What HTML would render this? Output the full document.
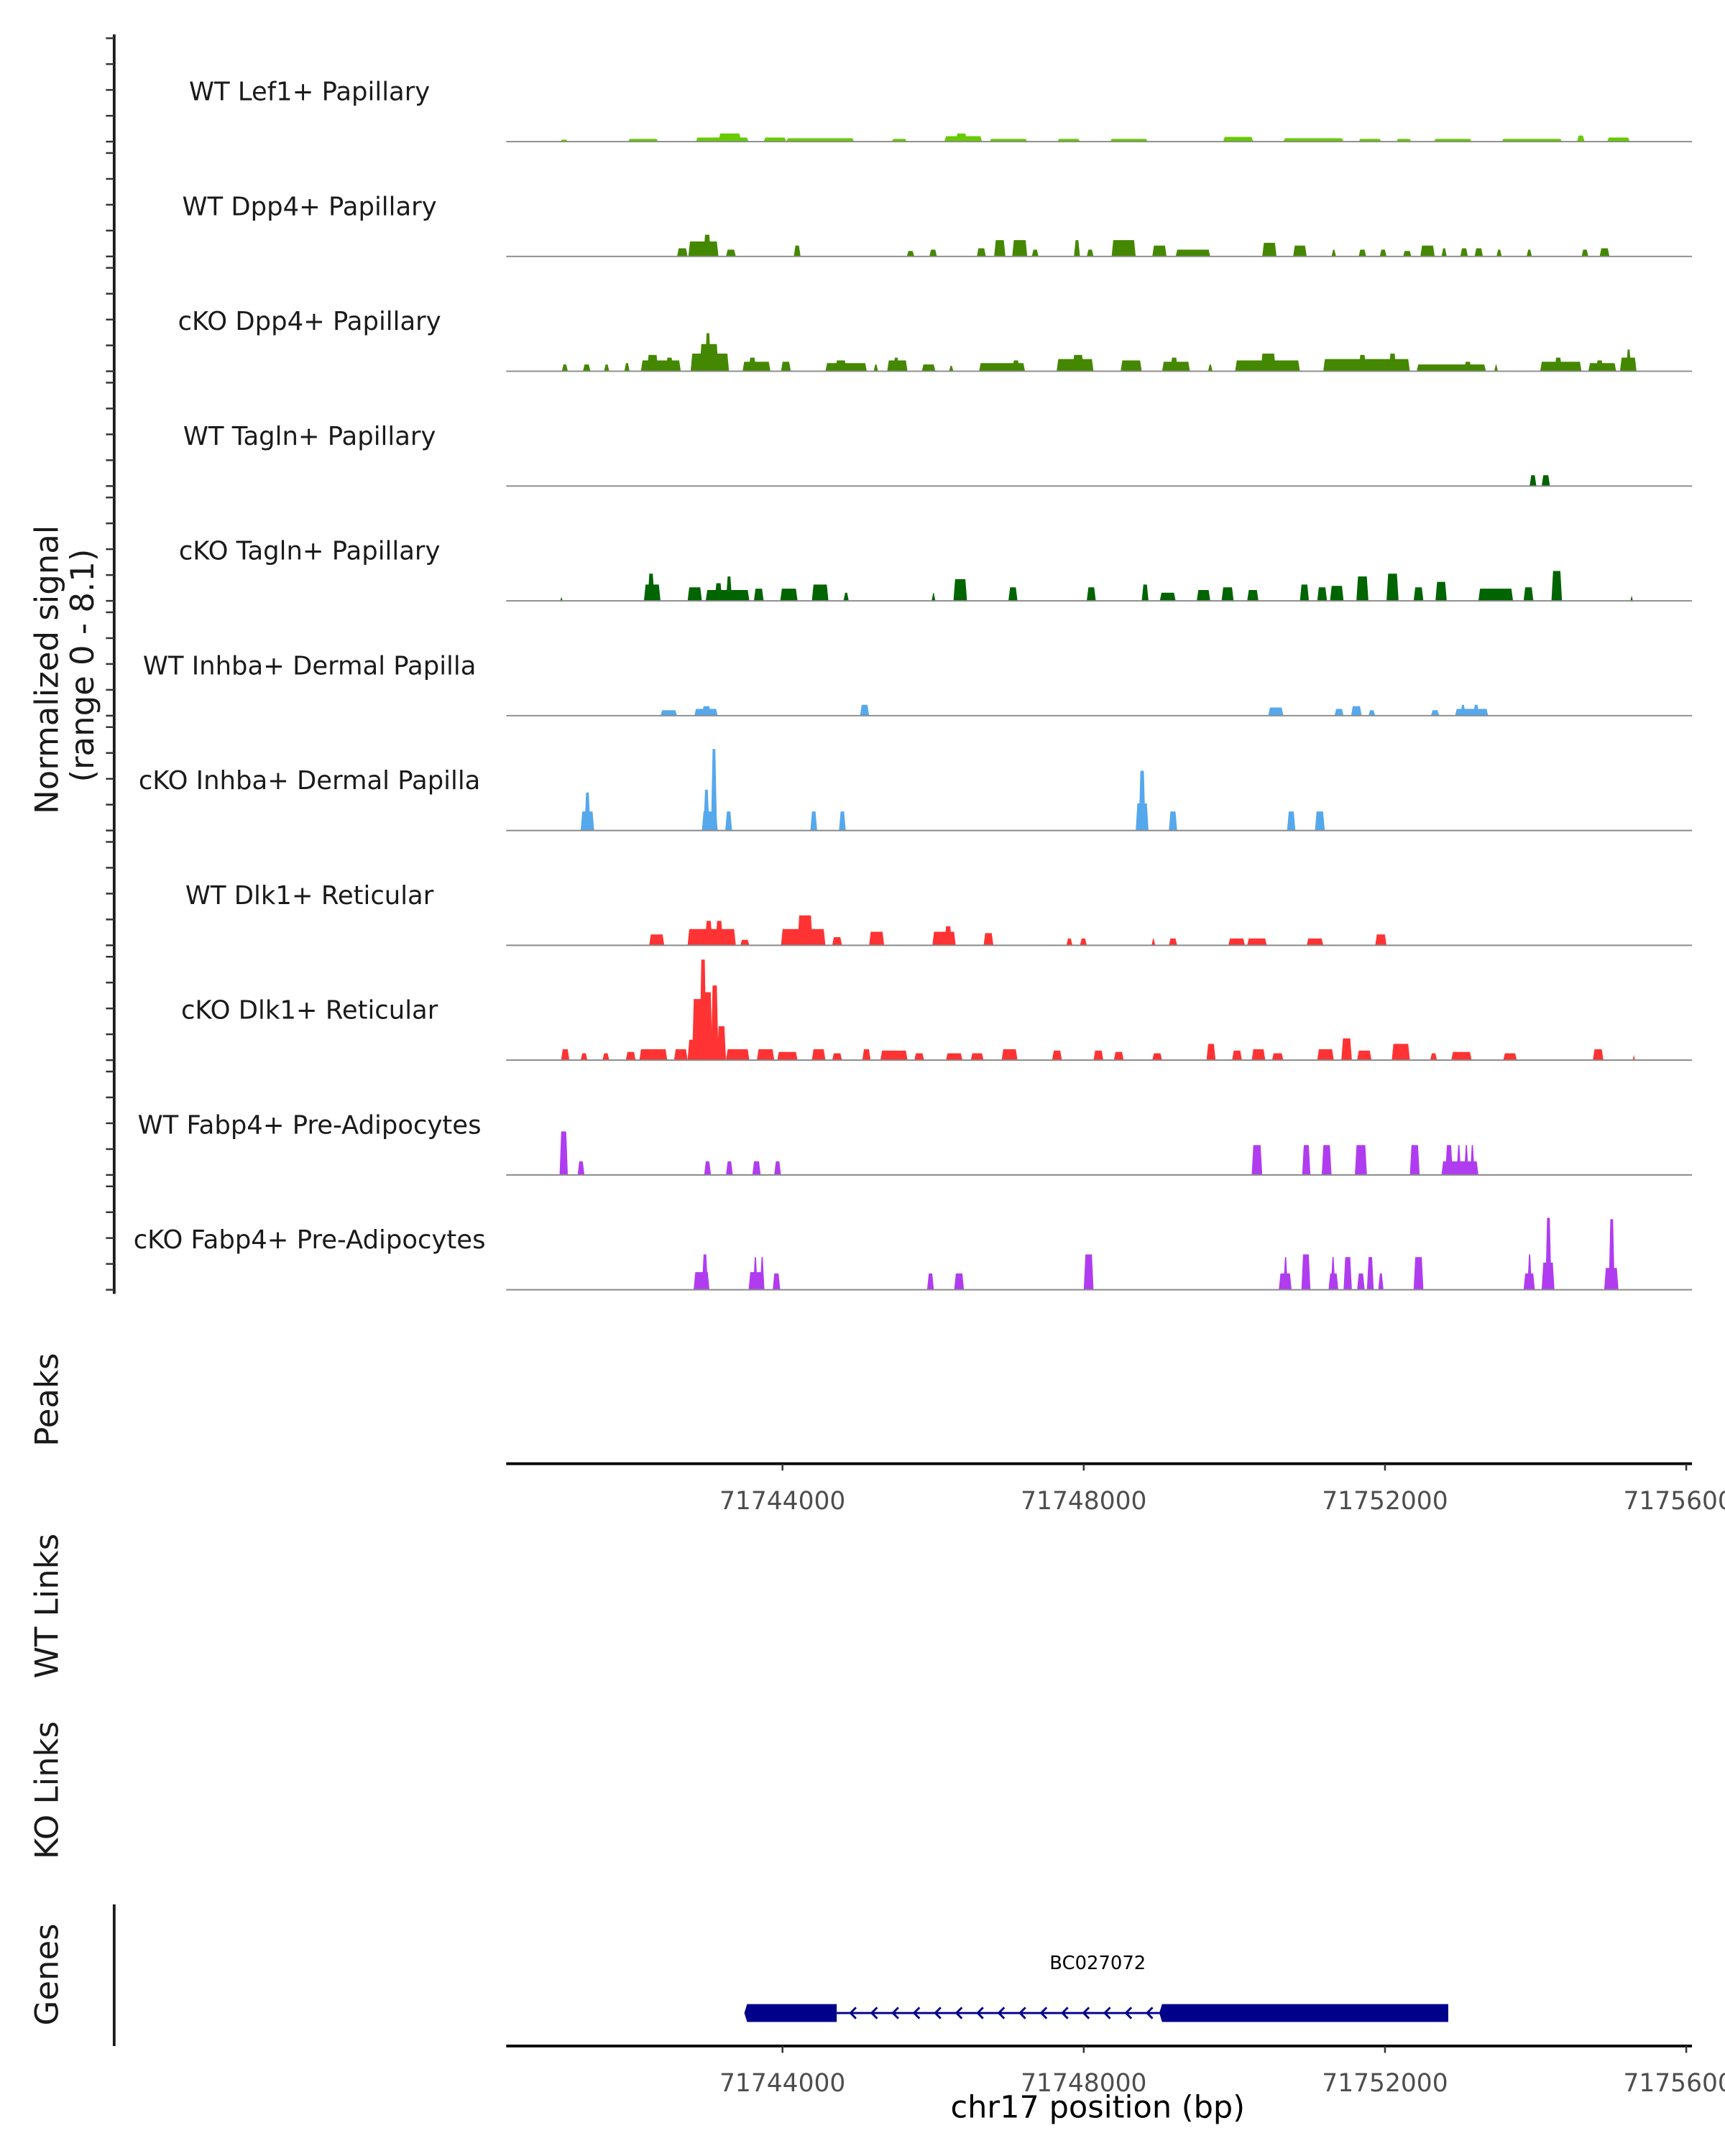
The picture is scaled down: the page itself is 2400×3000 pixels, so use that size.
<!DOCTYPE html>
<html><head><meta charset="utf-8"><style>
html,body{margin:0;padding:0;background:#fff;}
svg{display:block;font-family:"DejaVu Sans","Liberation Sans",sans-serif;}
</style></head><body>
<svg id="chart" width="2400" height="3000" viewBox="0 0 1254 1568" preserveAspectRatio="none" xmlns="http://www.w3.org/2000/svg">
<rect x="0" y="0" width="1254" height="1568" fill="#fff"/>
<line x1="83" y1="25" x2="83" y2="941" stroke="#1a1a1a" stroke-width="2"/>
<text transform="translate(42,487) rotate(-90)" text-anchor="middle" font-size="23.5" fill="#1a1a1a">Normalized signal</text>
<text transform="translate(68,484) rotate(-90)" text-anchor="middle" font-size="23.5" fill="#1a1a1a">(range 0 - 8.1)</text>
<text transform="translate(42,1018) rotate(-90)" text-anchor="middle" font-size="23.5" fill="#1a1a1a">Peaks</text>
<text transform="translate(42,1168) rotate(-90)" text-anchor="middle" font-size="23.5" fill="#1a1a1a">WT Links</text>
<text transform="translate(42,1302) rotate(-90)" text-anchor="middle" font-size="23.5" fill="#1a1a1a">KO Links</text>
<text transform="translate(42,1436) rotate(-90)" text-anchor="middle" font-size="23.5" fill="#1a1a1a">Genes</text>
<line x1="83" y1="1385" x2="83" y2="1488" stroke="#1a1a1a" stroke-width="2"/>
<line x1="368" y1="1064.5" x2="1230" y2="1064.5" stroke="#000" stroke-width="2"/>
<line x1="368" y1="1488" x2="1230" y2="1488" stroke="#000" stroke-width="2"/>
<text x="798" y="1540" text-anchor="middle" font-size="22.5" fill="#000">chr17 position (bp)</text>
<text x="798" y="1432" text-anchor="middle" font-size="13.5" fill="#000">BC027072</text>
<g id="tracks"></g>
<g id="axes"></g>
<g id="gene"></g>
</svg>
<script>
const regionStartKb = 71740.35;
const pxPerKb = 54.75;
const signalMax = 8.1;
const trackNames = ["WT Lef1+ Papillary","WT Dpp4+ Papillary","cKO Dpp4+ Papillary","WT Tagln+ Papillary","cKO Tagln+ Papillary","WT Inhba+ Dermal Papilla","cKO Inhba+ Dermal Papilla","WT Dlk1+ Reticular","cKO Dlk1+ Reticular","WT Fabp4+ Pre-Adipocytes","cKO Fabp4+ Pre-Adipocytes"];
const trackColors = ["#66cc00","#448800","#448800","#006400","#006400","#56a8ec","#56a8ec","#ff3333","#ff3333","#b03cf0","#b03cf0"];
const xTicks = [71744000,71748000,71752000,71756000];
// peaks: [startKbOffset, endKbOffset, signal]
const lef1WT = [[0.7,0.8,.15],[1.6,2.0,.2],[2.5,3.2,.3],[2.8,3.1,.6],[3.4,3.7,.3],[3.7,4.6,.25],[5.1,5.3,.2],[5.8,6.3,.4],[5.95,6.1,.6],[6.4,6.9,.2],[7.3,7.6,.2],[8.0,8.5,.2],[9.5,9.9,.35],[10.3,11.1,.25],[11.3,11.6,.2],[11.8,12.0,.2],[12.3,12.8,.2],[13.2,14.0,.2],[14.2,14.3,.45],[14.6,14.9,.3]];
const dpp4WT = [[2.25,2.39,.6],[2.4,2.8,1.1],[2.6,2.7,1.6],[2.9,3.03,.5],[3.8,3.89,.8],[5.3,5.4,.4],[5.6,5.7,.5],[6.23,6.35,.6],[6.46,6.61,1.2],[6.7,6.9,1.2],[6.96,7.05,.5],[7.52,7.6,1.2],[7.69,7.78,.5],[8.02,8.34,1.2],[8.56,8.75,.8],[8.87,9.33,.5],[10.02,10.21,1.0],[10.43,10.61,.8],[10.94,11.0,.5],[11.3,11.4,.5],[11.58,11.67,.5],[11.89,12.0,.4],[12.12,12.31,.8],[12.4,12.47,.6],[12.65,12.75,.6],[12.84,12.95,.6],[13.13,13.2,.5],[13.53,13.6,.5],[14.26,14.35,.5],[14.5,14.63,.6]];
const dpp4KO = [[0.72,0.8,.5],[1.0,1.1,.5],[1.28,1.35,.5],[1.55,1.62,.6],[1.77,2.3,.8],[1.85,2.0,1.2],[2.1,2.2,1.0],[2.43,2.94,1.3],[2.55,2.8,2.0],[2.62,2.7,2.8],[3.12,3.49,.7],[3.2,3.3,1.0],[3.63,3.76,.7],[4.22,4.77,.6],[4.35,4.5,.8],[4.86,4.92,.5],[5.04,5.31,.8],[5.12,5.2,1.0],[5.5,5.68,.5],[5.86,5.92,.4],[6.26,6.87,.6],[6.7,6.8,.8],[7.29,7.78,.9],[7.5,7.65,1.2],[8.14,8.42,.8],[8.69,9.06,.7],[8.8,8.9,1.0],[9.3,9.36,.5],[9.66,10.52,.8],[10.0,10.2,1.3],[10.83,11.98,.9],[11.3,11.4,1.2],[11.7,11.8,1.3],[12.07,12.99,.5],[12.7,12.8,.7],[13.1,13.15,.5],[13.71,14.26,.7],[13.9,14.0,1.0],[14.35,14.72,.6],[14.45,14.55,.8],[14.77,14.99,1.0],[14.85,14.92,1.6]];
const taglnWT = [[13.57,13.66,.8],[13.73,13.84,.8]];
const taglnKO = [[0.7,0.73,.3],[1.81,2.03,1.2],[1.86,1.95,2.0],[2.39,2.58,1.0],[2.63,3.21,.8],[2.75,2.85,1.3],[2.9,2.98,1.8],[3.27,3.4,.9],[3.62,3.85,.9],[4.04,4.26,1.2],[4.46,4.53,.6],[5.63,5.68,.6],[5.92,6.1,1.6],[6.65,6.77,1.0],[7.69,7.81,1.0],[8.42,8.51,1.2],[8.66,8.87,.6],[9.15,9.33,.8],[9.48,9.64,1.0],[9.82,9.97,.8],[10.52,10.64,1.2],[10.75,10.88,1.0],[10.92,11.1,1.1],[11.27,11.43,1.8],[11.67,11.83,2.0],[12.03,12.16,1.0],[12.32,12.47,1.4],[12.89,13.35,.9],[13.49,13.62,1.0],[13.86,14.0,2.2],[14.91,14.94,.4]];
const inhbaWT = [[2.03,2.25,.4],[2.48,2.79,.5],[2.58,2.7,.7],[4.68,4.8,.8],[10.1,10.3,.6],[10.98,11.1,.5],[11.2,11.34,.7],[11.43,11.52,.4],[12.26,12.37,.4],[12.58,13.02,.5],[12.65,12.72,.8],[12.82,12.9,.8]];
const inhbaKO = [[0.97,1.15,1.4],[1.02,1.1,2.8],[2.58,2.79,1.4],[2.6,2.68,3.0],[2.7,2.78,6.0],[2.89,2.98,1.4],[4.02,4.11,1.4],[4.4,4.49,1.4],[8.34,8.51,2.0],[8.38,8.47,4.4],[8.78,8.89,1.4],[10.35,10.46,1.4],[10.72,10.85,1.4]];
const dlk1WT = [[1.88,2.08,.8],[2.39,3.03,1.2],[2.62,2.72,1.8],[2.76,2.86,1.8],[3.09,3.21,.4],[3.63,4.22,1.2],[3.85,4.05,2.2],[4.31,4.44,.6],[4.8,5.0,1.0],[5.64,5.95,1.0],[5.8,5.9,1.4],[6.32,6.45,.9],[7.42,7.5,.5],[7.6,7.69,.5],[8.55,8.6,.5],[8.78,8.89,.5],[9.57,9.79,.5],[9.82,10.08,.5],[10.61,10.83,.5],[11.52,11.67,.8]];
const dlk1KO = [[0.71,0.82,.8],[0.97,1.06,.5],[1.26,1.35,.5],[1.57,1.7,.6],[1.75,2.12,.8],[2.21,2.39,.8],[2.39,2.48,1.5],[2.45,2.62,4.5],[2.55,2.64,7.4],[2.6,2.72,5.0],[2.7,2.8,5.5],[2.78,2.9,2.5],[2.9,3.21,.8],[3.31,3.54,.8],[3.58,3.85,.6],[4.04,4.22,.8],[4.31,4.44,.5],[4.71,4.82,.8],[4.95,5.31,.7],[5.4,5.53,.5],[5.82,6.04,.5],[6.15,6.32,.5],[6.56,6.77,.8],[7.23,7.36,.7],[7.78,7.91,.7],[8.05,8.18,.6],[8.56,8.69,.5],[9.28,9.4,1.2],[9.62,9.75,.7],[9.88,10.06,.8],[10.15,10.3,.5],[10.75,10.97,.8],[11.07,11.21,1.6],[11.28,11.47,.7],[11.74,11.98,1.2],[12.25,12.34,.5],[12.53,12.8,.6],[13.22,13.4,.5],[14.41,14.55,.8],[14.94,14.97,.4]];
const fabp4WT = [[0.69,0.8,3.2],[0.93,1.02,1.0],[2.61,2.7,1.0],[2.9,2.99,1.0],[3.25,3.36,1.0],[3.54,3.63,1.0],[9.88,10.02,2.2],[10.55,10.66,2.2],[10.81,10.94,2.2],[11.25,11.41,2.2],[11.98,12.11,2.2],[12.4,12.89,1.0],[12.45,12.55,2.2],[12.6,12.66,2.2],[12.7,12.76,2.2],[12.78,12.84,2.2]];
const fabp4KO = [[2.47,2.68,1.3],[2.58,2.66,2.6],[3.2,3.41,1.3],[3.26,3.32,2.4],[3.35,3.41,2.4],[3.52,3.62,1.2],[5.57,5.66,1.2],[5.93,6.06,1.2],[7.65,7.78,2.6],[10.24,10.41,1.2],[10.3,10.36,2.4],[10.54,10.66,2.6],[10.9,11.03,1.2],[10.93,10.99,2.4],[11.1,11.21,2.4],[11.28,11.38,1.2],[11.41,11.5,2.4],[11.56,11.63,1.2],[12.03,12.16,2.4],[13.49,13.64,1.2],[13.54,13.6,2.6],[13.73,13.9,2.0],[13.78,13.86,5.3],[14.56,14.75,1.6],[14.62,14.7,5.2]];
const trackPeaks = [lef1WT,dpp4WT,dpp4KO,taglnWT,taglnKO,inhbaWT,inhbaKO,dlk1WT,dlk1KO,fabp4WT,fabp4KO];
// gene model (kb offsets)
const geneExons = [[3.18,4.37],[8.69,12.49]];
const geneIntron = [4.37,8.69];

const NS = "http://www.w3.org/2000/svg";
const plotL = 368, plotR = 1230;
const firstBase = 103, trackStep = 83.5, trackH = 80;
function xScale(kb){ return 369 + kb * pxPerKb; }
function yScale(v, base){ return base - (v / signalMax) * trackH; }
function mk(tag, attrs){ const e = document.createElementNS(NS, tag); for (const k in attrs) e.setAttribute(k, attrs[k]); return e; }

const tracksG = document.getElementById("tracks");
const axesG = document.getElementById("axes");
trackNames.forEach((name, i) => {
  const base = firstBase + i * trackStep;
  const g = mk("g", {});
  
  
  const label = mk("text", {x: 225, y: base - 30, "text-anchor": "middle", "font-size": "18.5", fill: "#1a1a1a"});
  
  
  label.textContent = name;
  g.appendChild(label);
  trackPeaks[i].forEach(p => {
    const x0 = xScale(p[0]), x1 = xScale(p[1]);
    const yt = yScale(p[2], base);
    const r = Math.min(1.2, (x1 - x0) / 2);
    const poly = mk("polygon", {points: `${x0},${base} ${x0 + r},${yt} ${x1 - r},${yt} ${x1},${base}`, fill: trackColors[i]});
    
    
    g.appendChild(poly);
  });
  const bl = mk("line", {x1: plotL, y1: base, x2: plotR, y2: base, stroke: "#8a8a8a", "stroke-width": "1"});
  
  
  g.appendChild(bl);
  tracksG.appendChild(g);
  for (let k = 0; k < 5; k++) {
    const ty = base - k * 18.8;
    const t = mk("line", {x1: 77, y1: ty, x2: 83, y2: ty, stroke: "#333", "stroke-width": "1.3"});
    
    
    axesG.appendChild(t);
  }
});

[1064.5, 1488].forEach(ay => {
  xTicks.forEach(t => {
    const x = xScale(t / 1000 - regionStartKb);
    const tl = mk("line", {x1: x, y1: ay, x2: x, y2: ay + 5, stroke: "#333", "stroke-width": "1.3"});
    
    
    axesG.appendChild(tl);
    const tx = mk("text", {x: x, y: ay + 33, "text-anchor": "middle", "font-size": "18", fill: "#4d4d4d"});
    
    
    tx.textContent = String(t);
    axesG.appendChild(tx);
  });
});

const geneG = document.getElementById("gene");


const gy = 1464;
const il = mk("line", {x1: xScale(geneIntron[0]), y1: gy, x2: xScale(geneIntron[1]), y2: gy, stroke: "#00008b", "stroke-width": "1.5"});


geneG.appendChild(il);
for (let x = xScale(geneIntron[0]) + 10; x < xScale(geneIntron[1]) - 4; x += 15.4) {
  const a = mk("polyline", {points: `${x + 4},${gy - 4} ${x},${gy} ${x + 4},${gy + 4}`, fill: "none", stroke: "#00008b", "stroke-width": "1.5"});
  
  
  geneG.appendChild(a);
}
geneExons.forEach(e => {
  const x0 = xScale(e[0]), x1 = xScale(e[1]);
  const r = mk("polygon", {points: `${x0},${gy - 6.5} ${x1},${gy - 6.5} ${x1},${gy + 6.5} ${x0},${gy + 6.5} ${x0 - 2},${gy}`, fill: "#00008b"});
  
  
  geneG.appendChild(r);
});
</script>
</body></html>
